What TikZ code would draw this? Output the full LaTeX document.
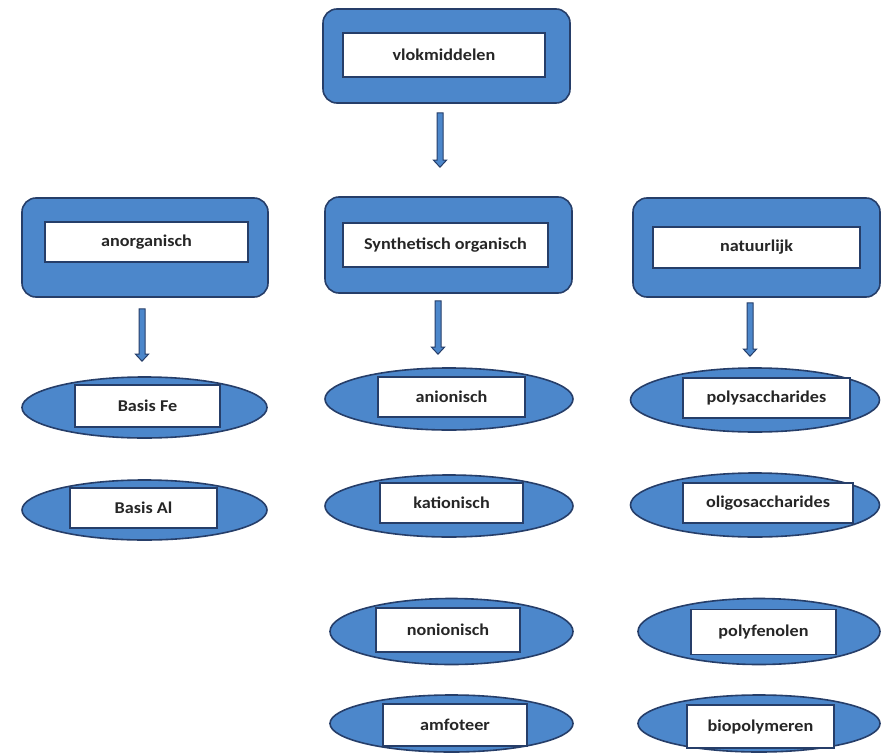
\documentclass[tikz,border=0pt]{standalone}
\usepackage{fontspec}
\usepackage{graphicx}
\setmainfont{Carlito}
\usetikzlibrary{shapes.geometric,calc}
\definecolor{boxblue}{RGB}{76,135,203}
\definecolor{boxline}{RGB}{38,62,105}
\tikzset{
  outerbox/.style={draw=boxline, line width=1.6pt, fill=boxblue, rounded corners=14pt, inner sep=0pt},
  ellbox/.style={ellipse, draw=boxline, line width=1.6pt, fill=boxblue, inner sep=0pt},
  label/.style={draw=boxline, line width=1.3pt, fill=white, inner sep=0pt,
    font=\fontsize{16.5}{19}\selectfont\bfseries, text=black!85},
  arrowsty/.style={draw=boxline, line width=1pt, fill=boxblue}
}
\newcommand\lbl[1]{\scalebox{1.1}[1]{#1}}
\newcommand\blockarr[2]{\path let \p1=#1, \p2=#2 in [arrowsty]
  (\x1-3pt,\y1) -- (\x1+3pt,\y1) -- (\x1+3pt,\y2+7pt) -- (\x1+6.5pt,\y2+7pt)
  -- (\x1,\y2) -- (\x1-6.5pt,\y2+7pt) -- (\x1-3pt,\y2+7pt) -- cycle;}
\begin{document}
\begin{tikzpicture}[x=1pt,y=-1pt]
\useasboundingbox[fill=white] (0,0) rectangle (882,754);
% top
\node[outerbox, minimum width=247pt, minimum height=94pt] (vlokO) at (446.5,56) {};
\node[label, minimum width=202pt, minimum height=44pt] (vlok) at (444,55) {\lbl{vlokmiddelen}};
% second row boxes
\node[outerbox, minimum width=246pt, minimum height=99pt] (anorgO) at (145,247.5) {};
\node[label, minimum width=203pt, minimum height=40pt] (anorg) at (146.5,242) {\lbl{anorganisch}};
\node[outerbox, minimum width=247pt, minimum height=96pt] (synthO) at (448.5,245) {};
\node[label, minimum width=205pt, minimum height=44pt] (synth) at (445.5,245) {\lbl{Synthetisch organisch}};
\node[outerbox, minimum width=247pt, minimum height=99pt] (natO) at (756.5,247.5) {};
\node[label, minimum width=207pt, minimum height=41pt] (nat) at (756.5,247.5) {\lbl{natuurlijk}};
% left column
\node[ellbox, minimum width=245pt, minimum height=61pt] (feE) at (144.5,407.5) {};
\node[label, minimum width=145pt, minimum height=42pt] (fe) at (147.5,406) {\lbl{Basis Fe}};
\node[ellbox, minimum width=245pt, minimum height=60pt] (alE) at (144.5,510) {};
\node[label, minimum width=147pt, minimum height=40pt] (al) at (143.5,508) {\lbl{Basis Al}};
% middle column
\node[ellbox, minimum width=248pt, minimum height=62pt] (anE) at (449,399) {};
\node[label, minimum width=147pt, minimum height=40pt] (an) at (451.5,397) {\lbl{anionisch}};
\node[ellbox, minimum width=248pt, minimum height=62pt] (katE) at (449,506) {};
\node[label, minimum width=143pt, minimum height=40pt] (kat) at (451.5,503) {\lbl{kationisch}};
\node[ellbox, minimum width=243pt, minimum height=66pt] (nonE) at (451.5,631.5) {};
\node[label, minimum width=144pt, minimum height=44pt] (non) at (448,630) {\lbl{nonionisch}};
\node[ellbox, minimum width=243pt, minimum height=57pt] (amfE) at (451.5,723.5) {};
\node[label, minimum width=144pt, minimum height=42pt] (amf) at (455,725) {\lbl{amfoteer}};
% right column
\node[ellbox, minimum width=249pt, minimum height=64pt] (polyE) at (755,400) {};
\node[label, minimum width=167pt, minimum height=40pt] (poly) at (766.5,398) {\lbl{polysaccharides}};
\node[ellbox, minimum width=249pt, minimum height=64pt] (oliE) at (755,505) {};
\node[label, minimum width=170pt, minimum height=40pt] (oli) at (768,503) {\lbl{oligosaccharides}};
\node[ellbox, minimum width=242pt, minimum height=66pt] (pfE) at (759,631.5) {};
\node[label, minimum width=145pt, minimum height=45pt] (pf) at (763.5,632) {\lbl{polyfenolen}};
\node[ellbox, minimum width=242pt, minimum height=57pt] (bioE) at (759,723.5) {};
\node[label, minimum width=147pt, minimum height=43pt] (bio) at (760.5,726.5) {\lbl{biopolymeren}};
% arrows
\blockarr{($(vlokO.south)+(-6.5,9)$)}{($(synthO.north)+(-8.5,-29)$)}
\blockarr{($(anorgO.south)+(-3,11)$)}{($(feE.north)+(-2.5,-15)$)}
\blockarr{($(synthO.south)+(-10.5,7)$)}{($(anE.north)+(-11,-13)$)}
\blockarr{($(natO.south)+(-6.5,5)$)}{($(polyE.north)+(-5,-11)$)}
\end{tikzpicture}
\end{document}
